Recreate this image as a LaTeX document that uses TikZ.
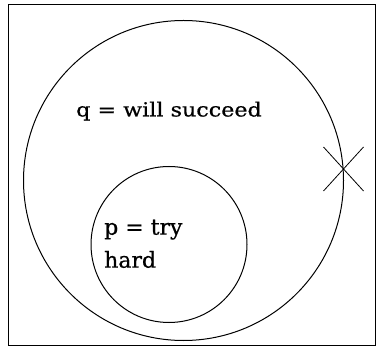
\documentclass[tikz,border=0pt]{standalone}
\usepackage{fontspec}
\setmainfont[FakeBold=0.6]{DejaVu Serif}
\begin{document}
\begin{tikzpicture}[x=1pt,y=-1pt,
  ln/.style={line width=1pt,draw=black},
  lbl/.style={inner sep=0pt}]
\useasboundingbox (0,0) rectangle (380,347);
\node[ln,draw,rectangle,minimum width=367pt,minimum height=340pt,inner sep=0pt] (frame) at (191.5,175) {};
\node[ln,draw,circle,minimum size=320pt,inner sep=0pt] (q) at (183.5,180.5) {};
\node[ln,draw,circle,minimum size=156pt,inner sep=0pt] (p) at (169,244.5) {};
\coordinate (x) at (343.5,169);
\draw[line width=0.8pt] ([shift={(-20,-22)}]x) -- ([shift={(20,22)}]x)
                        ([shift={(20,-22)}]x) -- ([shift={(-20,22)}]x);
\node[lbl,anchor=base west,font=\fontsize{19.5}{30}\selectfont] (qt) at (76,116.5) {\scalebox{1.14}[1]{q = will succeed}};
\node[lbl,anchor=north west,align=left,font=\fontsize{22}{33}\selectfont] (pt) at (104,219.5) {p = try\\hard};
\end{tikzpicture}
\end{document}
